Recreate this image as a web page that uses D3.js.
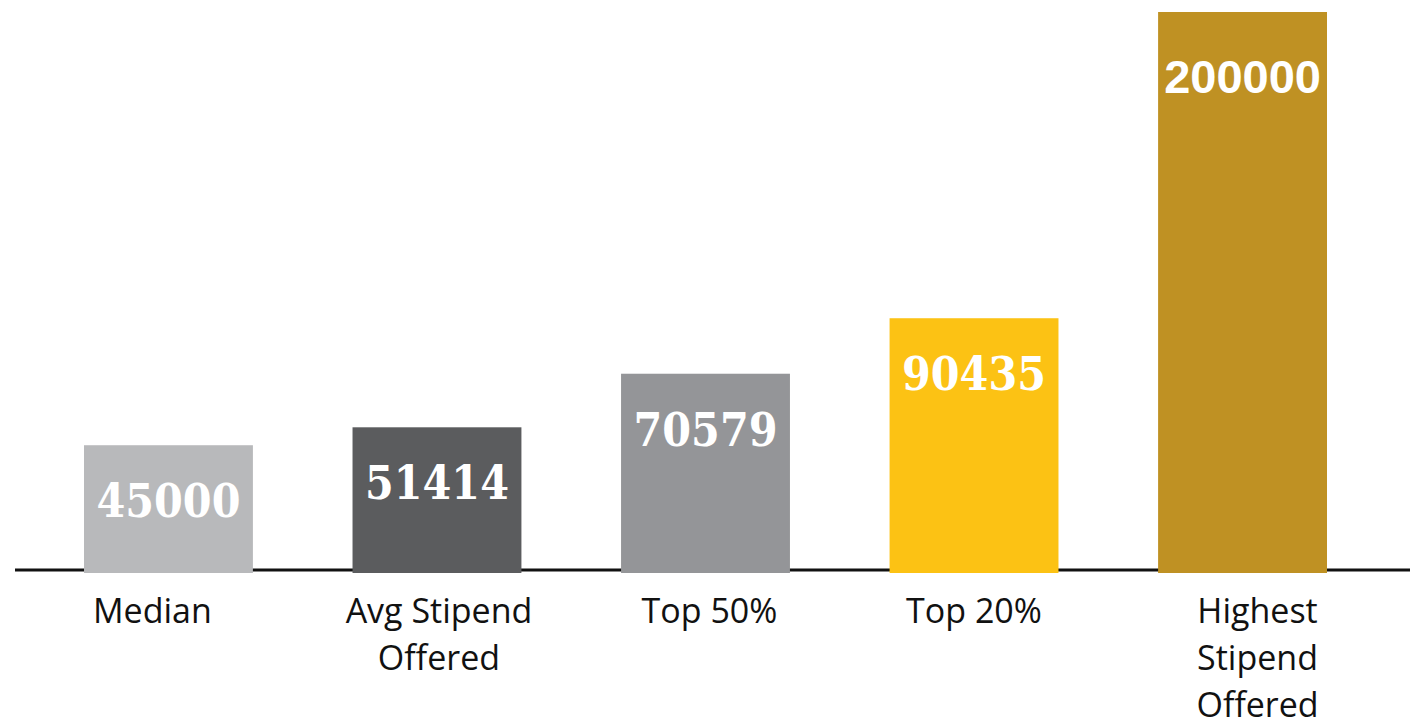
<!DOCTYPE html>
<html>
<head>
<meta charset="utf-8">
<script src="https://cdn.jsdelivr.net/npm/d3@7"></script>
<style>
  body { margin: 0; background: #fff; }
  svg { display: block; }
</style>
</head>
<body>
<script>
var categories = [["Median"], ["Avg Stipend", "Offered"], ["Top 50%"], ["Top 20%"], ["Highest", "Stipend", "Offered"]];
var keys = ["median", "avg", "top50", "top20", "highest"];
var values = [45000, 51414, 70579, 90435, 200000];
var colors = ["#b8b9bb", "#5b5c5e", "#949598", "#fcc214", "#bf9123"];

var width = 1410,
    height = 726,
    baseY = 571;

// the text boxes under the bars are not quite centred in the original
var labelShift = [-16, 2, 4, 0, 15];

var svg = d3.select("body").append("svg")
    .attr("width", width)
    .attr("height", height);

var x = d3.scaleBand()
    .domain(keys)
    .range([84, 1327])
    .paddingInner(0.371)
    .paddingOuter(0);

var y = d3.scaleLinear()
    .domain([0, 200000])
    .range([baseY, 12]);

// baseline
svg.append("line")
    .attr("x1", 15)
    .attr("x2", width)
    .attr("y1", baseY - 1)
    .attr("y2", baseY - 1)
    .attr("stroke", "#111")
    .attr("stroke-width", 3);

var bar = svg.selectAll(".bar")
    .data(values)
  .enter().append("g")
    .attr("class", "bar");

bar.append("rect")
    .attr("x", function(d, i) { return x(keys[i]); })
    .attr("y", function(d) { return y(d); })
    .attr("width", x.bandwidth())
    .attr("height", function(d) { return baseY + 2 - y(d); })
    .style("fill", function(d, i) { return colors[i]; });

bar.append("text")
    .attr("x", function(d, i) { return x(keys[i]) + x.bandwidth() / 2; })
    .attr("y", function(d, i) { return y(d) + (i == 4 ? 81 : 72); })
    .attr("text-anchor", "middle")
    .style("font-family", function(d, i) { return i == 4 ? "'Liberation Sans', Arial, sans-serif" : "'DejaVu Serif Condensed', 'DejaVu Serif', serif"; })
    .style("font-size", function(d, i) { return i == 4 ? "47px" : "46px"; })
    .style("font-weight", "bold")
    .style("fill", "#fff")
    .text(function(d) { return d; });

// category labels under the axis
var lab = svg.selectAll(".cat")
    .data(categories)
  .enter().append("text")
    .attr("class", "cat")
    .attr("x", function(d, i) { return x(keys[i]) + x.bandwidth() / 2 + labelShift[i]; })
    .attr("y", 623)
    .attr("text-anchor", "middle")
    .style("font-family", "'Open Sans', 'Noto Sans', sans-serif")
    .style("font-size", "34px")
    .style("fill", "#111");

lab.selectAll("tspan")
    .data(function(d) { return d; })
  .enter().append("tspan")
    .attr("x", function() { return d3.select(this.parentNode).attr("x"); })
    .attr("dy", function(d, i) { return i == 0 ? 0 : 47; })
    .text(function(d) { return d; });
</script>
</body>
</html>
